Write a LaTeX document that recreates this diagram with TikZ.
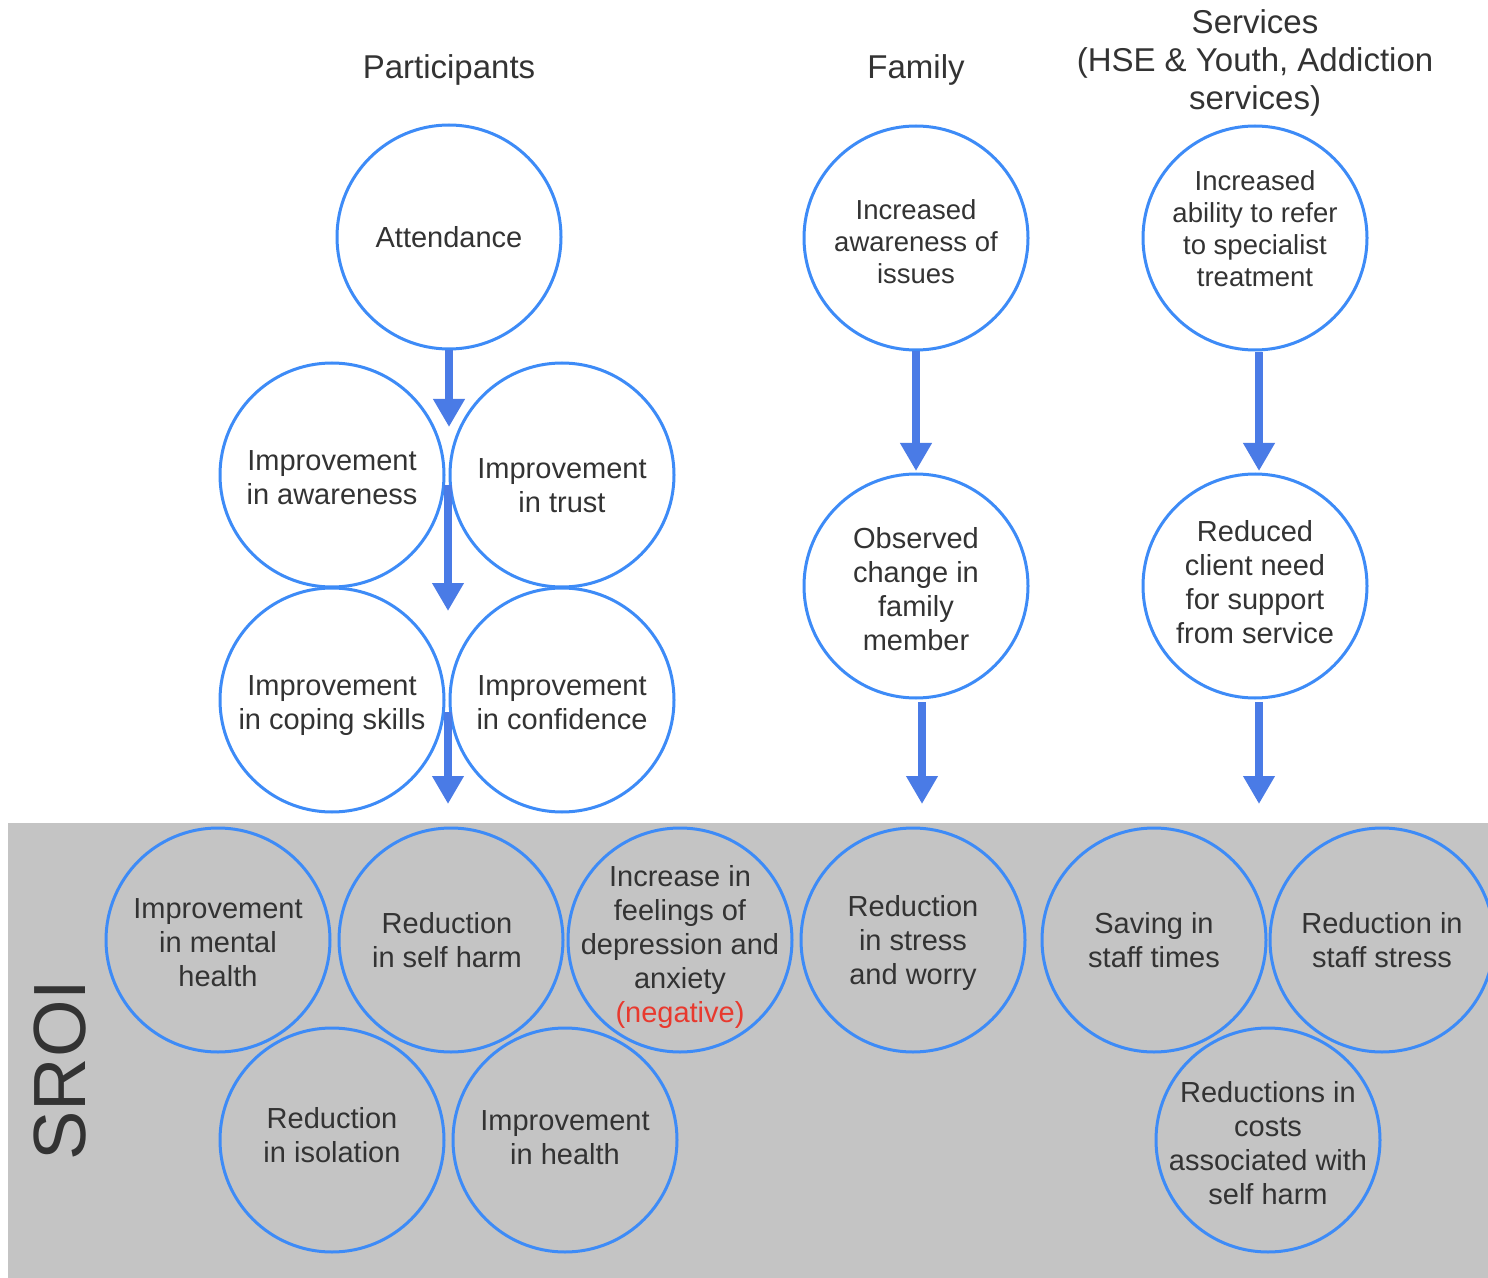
\documentclass[tikz,border=0pt]{standalone}
\usepackage{fontspec}
\setmainfont{Liberation Sans}
\usetikzlibrary{arrows.meta}
\definecolor{circ}{HTML}{3D8BF7}
\definecolor{arrc}{HTML}{4A7BE6}
\definecolor{band}{HTML}{C4C4C4}
\definecolor{txt}{HTML}{333333}
\definecolor{neg}{HTML}{E8392E}
\begin{document}
\begin{tikzpicture}[x=0.5pt,y=-0.5pt,
  bub/.style={circle,draw=circ,line width=1.5pt,minimum size=112pt,inner sep=0pt},
  bt/.style={align=center,text=txt,inner sep=0pt,font=\fontsize{14.5}{17}\selectfont,yshift=-1.5pt},
  bts/.style={bt,font=\fontsize{13.75}{16}\selectfont},
  arr/.style={draw=arrc,line width=4pt,-{Triangle[width=15pt,length=14pt]}},
  ttl/.style={align=center,text=txt,font=\fontsize{16.5}{19}\selectfont,yshift=-1.5pt}]
\useasboundingbox (0,0) rectangle (1488,1278);
\fill[white] (0,0) rectangle (1488,1278);
% SROI band
\fill[band] (8,823) rectangle (1488,1278);
\node[rotate=90,text=txt,font=\fontsize{37}{40}\selectfont] (sroi) at (60,1070) {SROI};
% titles
\node[ttl] (tpart) at (449,67) {Participants};
\node[ttl] (tfam) at (916,67) {Family};
\node[ttl] (tserv) at (1255,60) {Services\\(HSE \& Youth, Addiction\\services)};
% participants
\node[bub,label={[bt,yshift=1.5pt]center:Attendance}] (att) at (449,237) {};
\node[bub,label={[bt]center:{Improvement\\in awareness}}] (aware) at (332,475) {};
\node[bub,label={[bt,yshift=-4pt]center:{Improvement\\in trust}}] (trust) at (562,475) {};
\node[bub,label={[bt,yshift=-1.5pt]center:{Improvement\\in coping skills}}] (cope) at (332,700) {};
\node[bub,label={[bt]center:{Improvement\\in confidence}}] (conf) at (562,700) {};
% family
\node[bub,label={[bts,yshift=-0.5pt]center:{Increased\\awareness of\\issues}}] (fam1) at (916,238) {};
\node[bub,label={[bt]center:{Observed\\change in\\family\\member}}] (fam2) at (916,586) {};
% services
\node[bub,label={[bts,yshift=6pt]center:{Increased\\ability to refer\\to specialist\\treatment}}] (srv1) at (1255,238) {};
\node[bub,label={[bt,yshift=3.5pt]center:{Reduced\\client need\\for support\\from service}}] (srv2) at (1255,586) {};
% SROI outcomes
\node[bub,label={[bt]center:{Improvement\\in mental\\health}}] (o1) at (218,940) {};
\node[bub,label={[bt,yshift=1.5pt,xshift=-2pt]center:{Reduction\\in self harm}}] (o2) at (451,940) {};
\node[bub,label={[bt,yshift=-2pt]center:{Increase in\\feelings of\\depression and\\anxiety\\\textcolor{neg}{(negative)}}}] (o3) at (680,940) {};
\node[bub,label={[bt]center:{Reduction\\in stress\\and worry}}] (o4) at (913,940) {};
\node[bub,label={[bt,yshift=1.5pt]center:{Saving in\\staff times}}] (o5) at (1154,940) {};
\node[bub,label={[bt,yshift=1.5pt]center:{Reduction in\\staff stress}}] (o6) at (1382,940) {};
\node[bub,label={[bt,yshift=4pt]center:{Reduction\\in isolation}}] (o7) at (332,1140) {};
\node[bub,label={[bt,yshift=2.5pt]center:{Improvement\\in health}}] (o8) at (565,1140) {};
\node[bub,label={[bt]center:{Reductions in\\costs\\associated with\\self harm}}] (o9) at (1268,1140) {};
% arrow end points
\coordinate (a1e) at (449,427);
\coordinate (a2s) at (448,485);
\coordinate (a2e) at (448,611);
\coordinate (a3s) at (448,712);
\coordinate (a3e) at (448,804);
\coordinate (f1e) at (916,471);
\coordinate (f2s) at (922,702);
\coordinate (f2e) at (922,804);
\coordinate (s1s) at (1259,352);
\coordinate (s1e) at (1259,471);
\coordinate (s2s) at (1259,702);
\coordinate (s2e) at (1259,804);
% arrows
\draw[arr] (att.south) -- (a1e);
\draw[arr] (a2s) -- (a2e);
\draw[arr] (a3s) -- (a3e);
\draw[arr] (fam1.south) -- (f1e);
\draw[arr] (f2s) -- (f2e);
\draw[arr] (s1s) -- (s1e);
\draw[arr] (s2s) -- (s2e);
\end{tikzpicture}
\end{document}
